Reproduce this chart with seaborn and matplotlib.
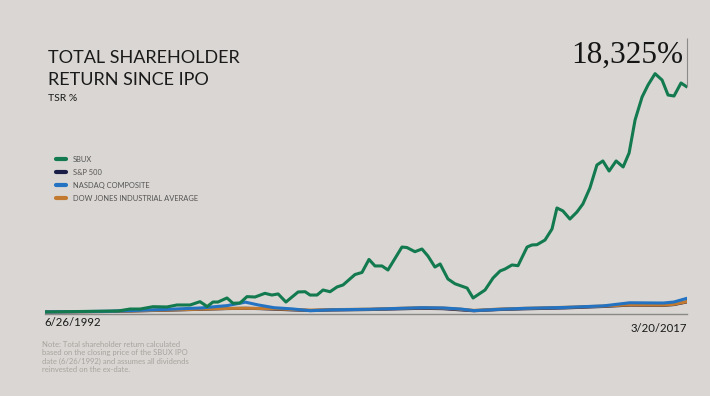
import numpy as np
import pandas as pd
import seaborn as sns
import matplotlib.pyplot as plt

# decimal years and TSR %
sbux_year = [1992.48, 1993.83, 1995.29, 1995.75, 1996.14, 1996.64, 1997.18, 1997.56, 1998.07, 1998.45,
             1998.64, 1998.72, 1998.95, 1999.14, 1999.49, 1999.72, 1999.99, 2000.26, 2000.57, 2000.95,
             2001.22, 2001.46, 2001.76, 2002.23, 2002.50, 2002.69, 2002.96, 2003.19, 2003.46, 2003.73,
             2003.96, 2004.42, 2004.69, 2004.96, 2005.19, 2005.46, 2005.69, 2006.23, 2006.42, 2006.73,
             2007.00, 2007.23, 2007.50, 2007.70, 2008.00, 2008.27, 2008.74, 2008.97, 2009.43, 2009.74,
             2010.01, 2010.20, 2010.47, 2010.70, 2011.05, 2011.24, 2011.43, 2011.74, 2012.01, 2012.20,
             2012.43, 2012.70, 2012.97, 2013.20, 2013.47, 2013.74, 2013.97, 2014.21, 2014.48, 2014.75,
             2014.98, 2015.21, 2015.48, 2015.71, 2015.98, 2016.25, 2016.48, 2016.71, 2016.98, 2017.21]
sbux_tsr = [0, 40, 80, 240, 240, 430, 410, 570, 570, 840,
            570, 430, 810, 810, 1140, 710, 730, 1250, 1220, 1520,
            1380, 1470, 810, 1630, 1650, 1380, 1380, 1790, 1650, 2040,
            2200, 3050, 3220, 4280, 3750, 3750, 3420, 5290, 5250, 4910,
            5130, 4560, 3660, 3910, 2690, 2300, 1950, 1140, 1790, 2770,
            3340, 3500, 3830, 3770, 5290, 5460, 5480, 5860, 6760, 8470,
            8230, 7570, 8140, 8800, 10100, 11970, 12300, 11480, 12300, 11810,
            12950, 15640, 17510, 18490, 19410, 18890, 17670, 17590, 18650, 18325]

idx_year = [1992.48, 1995.0, 1997.0, 1998.5, 1999.5, 2000.2, 2000.7, 2001.3, 2002.0, 2002.7,
            2003.5, 2005.0, 2007.0, 2007.8, 2008.5, 2009.0, 2010.0, 2011.0, 2012.5, 2014.0,
            2015.0, 2016.3, 2016.7, 2017.21]
nasdaq_tsr = [0, 60, 200, 330, 520, 800, 570, 350, 250, 100,
              180, 220, 350, 330, 240, 110, 220, 300, 370, 500,
              750, 730, 810, 1115]
sp500_tsr = [0, 40, 140, 220, 280, 300, 280, 230, 170, 120,
             160, 200, 300, 270, 170, 100, 200, 260, 330, 450,
             560, 540, 600, 820]
dow_tsr = [0, 45, 150, 230, 290, 300, 290, 260, 200, 150,
           190, 230, 350, 320, 220, 130, 240, 300, 380, 480,
           580, 560, 620, 840]

labels = ['SBUX', 'S&P 500', 'NASDAQ COMPOSITE', 'DOW JONES INDUSTRIAL AVERAGE']
colors = ['#127a4e', '#1b1f48', '#2373c2', '#c17a30']
bg = '#d9d6d3'

sns.set_theme(style='white')
plt.rcParams['font.family'] = ['Lato', 'DejaVu Sans']

fig = plt.figure(figsize=(7.1, 3.96), dpi=100, facecolor=bg)
ax = fig.add_axes([0.0634, 0.2072, 0.9042, 0.7119])
ax.set_facecolor(bg)

# draw order: hidden S&P first, SBUX on top
sns.lineplot(x=idx_year, y=sp500_tsr, color=colors[1], lw=2.2, ax=ax)
sns.lineplot(x=idx_year, y=dow_tsr, color=colors[3], lw=2.2, ax=ax)
sns.lineplot(x=idx_year, y=nasdaq_tsr, color=colors[2], lw=2.2, ax=ax)
sns.lineplot(x=sbux_year, y=sbux_tsr, color=colors[0], lw=2.2, ax=ax)

ax.set_xlim(sbux_year[0], sbux_year[-1])
ax.set_ylim(-160, 22800)
ax.set_xticks([])
ax.set_yticks([])
ax.set_xlabel('')
ax.set_ylabel('')
for s in ['top', 'left', 'right']:
    ax.spines[s].set_visible(False)
ax.spines['bottom'].set_color('#8c8a88')
ax.spines['bottom'].set_linewidth(1.0)

# end value callout
x_end, v_end = sbux_year[-1], sbux_tsr[-1]
ax.vlines(x_end, v_end, 22300, color='#8c8a88', lw=0.8, clip_on=False)
ax.annotate(f'{v_end:,}%', xy=(x_end, 22300), xytext=(-2.5, -17.5),
            textcoords='offset points', ha='right', va='baseline',
            fontsize=22.5, family='Liberation Serif', color='#151515')

# date labels
fig.text(44 / 710, 1 - 323 / 396, '6/26/1992', ha='left', va='center', fontsize=8.2, color='#1a1a1a')
fig.text(687 / 710, 1 - 328 / 396, '3/20/2017', ha='right', va='center', fontsize=8.2, color='#1a1a1a')

# titles
fig.text(48 / 710, 1 - 63.3 / 396, 'TOTAL SHAREHOLDER', ha='left', va='baseline',
         fontsize=13, color='#1a1a1a')
fig.text(48 / 710, 1 - 85 / 396, 'RETURN SINCE IPO', ha='left', va='baseline',
         fontsize=13, color='#1a1a1a')
fig.text(48 / 710, 1 - 100.7 / 396, 'TSR %', ha='left', va='baseline', fontsize=7.5, color='#1a1a1a')

# legend
handles = [plt.Line2D([], [], color=c, lw=3) for c in colors]
fig.legend(handles, labels, loc='upper left', bbox_to_anchor=(53 / 710, 1 - 153 / 396),
           frameon=False, fontsize=5.4, handlelength=1.35, handletextpad=0.9,
           labelspacing=0.78, labelcolor='#555555', borderaxespad=0)

note = ('Note: Total shareholder return calculated\nbased on the closing price of the SBUX IPO\n'
        'date (6/26/1992) and assumes all dividends\nreinvested on the ex-date.')
fig.text(42 / 710, 1 - 341 / 396, note, ha='left', va='top', fontsize=5.5, color='#a8a39e',
         linespacing=1.2)

fig.savefig('out.png', dpi=100, facecolor=bg)
